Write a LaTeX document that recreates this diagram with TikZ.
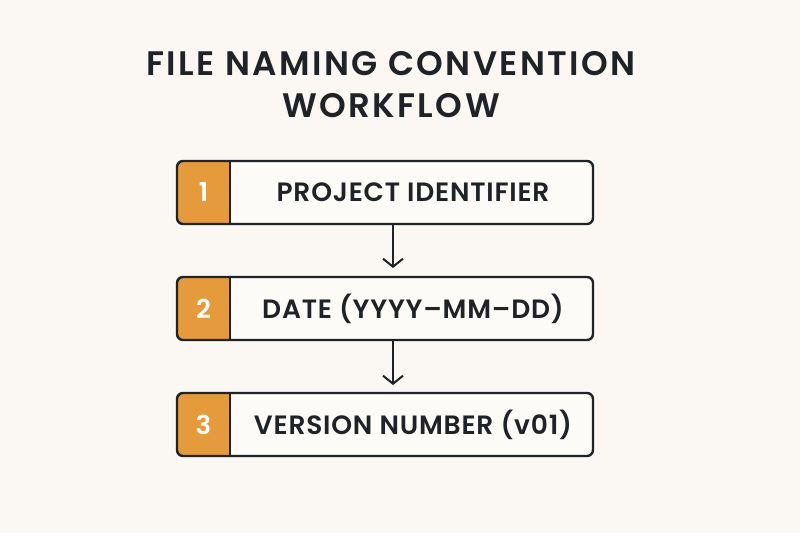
\documentclass[tikz,border=0pt]{standalone}
\usepackage{fontspec}
\setmainfont{Poppins}
\newfontfamily\semib[LetterSpace=7]{Poppins SemiBold}
\newfontfamily\semibb[LetterSpace=3]{Poppins SemiBold}
\usetikzlibrary{arrows.meta}
\definecolor{bg}{HTML}{FBF8F3}
\definecolor{boxfill}{HTML}{FDFBF8}
\definecolor{ink}{HTML}{1F2328}
\definecolor{accent}{HTML}{E59A3C}
\tikzset{
  stepframe/.style={draw=ink, line width=2.4pt, rounded corners=6pt},
  steplabel/.style={font=\semibb\fontsize{26.5}{26.5}\selectfont, text=ink, anchor=center},
  stepnum/.style={font=\semibb\fontsize{26}{26}\selectfont, text=white, anchor=center},
  flow/.style={draw=ink, line width=2pt, -{Straight Barb[length=8pt,width=20pt,line width=2pt]}},
  titletext/.style={font=\semib\fontsize{34}{42}\selectfont, text=ink, align=center}
}
\begin{document}
\begin{tikzpicture}[x=1pt,y=-1pt]
\fill[bg] (0,0) rectangle (800,533);
\useasboundingbox (0,0) rectangle (800,533);
\node[titletext] (title) at (391,85) {FILE NAMING CONVENTION\\WORKFLOW};
% boxes
\foreach \i/\top/\txt in {1/161/PROJECT IDENTIFIER,2/277/DATE (YYYY–MM–DD),3/393/VERSION NUMBER (v01)}{
  \begin{scope}
    \clip[rounded corners=6pt] (177,\top) rectangle (593,\top+63);
    \fill[boxfill] (177,\top) rectangle (593,\top+63);
    \fill[accent] (177,\top) rectangle (230,\top+63);
  \end{scope}
  \draw[ink, line width=2.4pt] (230,\top) -- (230,\top+63);
  \draw[stepframe] (177,\top) rectangle (593,\top+63);
  \node[stepnum] (n\i) at (203.5,\top+31.5) {\i};
  \node[steplabel] (s\i) at (413,\top+31.5) {\txt};
  \coordinate (top\i) at (393,\top);
  \coordinate (bot\i) at (393,\top+63);
}
\draw[flow] (bot1) -- (393,268);
\draw[flow] (bot2) -- (393,385);
\end{tikzpicture}
\end{document}
